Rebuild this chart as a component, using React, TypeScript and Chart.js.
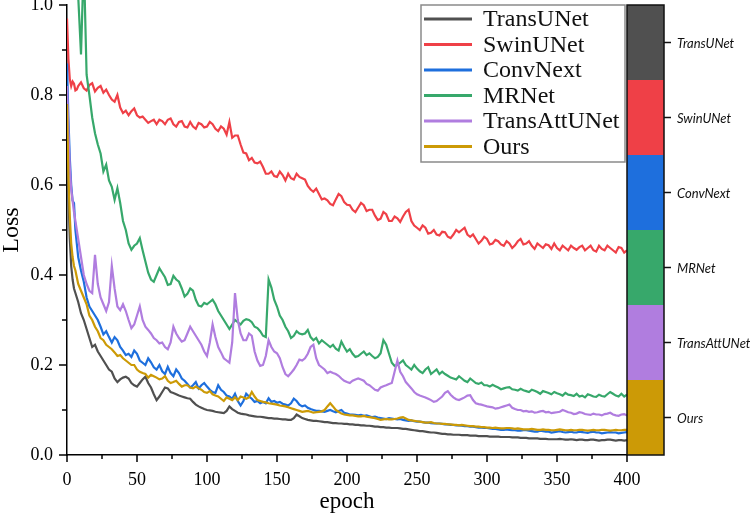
import React, { useEffect, useRef } from "react";
import { Chart, registerables } from "chart.js";
Chart.register(...registerables);

const epochs = [
  0, 1, 2, 3, 4, 5, 6, 7, 8,
  10, 12, 14, 16, 18, 20, 22, 24, 26, 28,
  30, 32, 34, 36, 38, 40, 42, 44, 46, 48,
  50, 52, 54, 56, 58, 60, 62, 64, 66, 68,
  70, 72, 74, 76, 78, 80, 82, 84, 86, 88,
  90, 92, 94, 96, 98, 100, 102, 104, 106, 108,
  110, 112, 114, 116, 118, 120, 122, 124, 126, 128,
  130, 132, 134, 136, 138, 140, 142, 144, 146, 148,
  150, 152, 154, 156, 158, 160, 162, 164, 166, 168,
  170, 172, 174, 176, 178, 180, 182, 184, 186, 188,
  190, 192, 194, 196, 198, 200, 202, 204, 206, 208,
  210, 212, 214, 216, 218, 220, 222, 224, 226, 228,
  230, 232, 234, 236, 238, 240, 242, 244, 246, 248,
  250, 252, 254, 256, 258, 260, 262, 264, 266, 268,
  270, 272, 274, 276, 278, 280, 282, 284, 286, 288,
  290, 292, 294, 296, 298, 300, 302, 304, 306, 308,
  310, 312, 314, 316, 318, 320, 322, 324, 326, 328,
  330, 332, 334, 336, 338, 340, 342, 344, 346, 348,
  350, 352, 354, 356, 358, 360, 362, 364, 366, 368,
  370, 372, 374, 376, 378, 380, 382, 384, 386, 388,
  390, 392, 394, 396, 398, 400,
];

const transUNet = [
  0.72, 0.58, 0.48, 0.42, 0.39, 0.37, 0.36, 0.35, 0.34,
  0.315, 0.3, 0.28, 0.26, 0.24, 0.245, 0.23, 0.22, 0.21, 0.2,
  0.19, 0.185, 0.17, 0.162, 0.168, 0.172, 0.174, 0.17, 0.16, 0.155,
  0.152, 0.16, 0.168, 0.174, 0.16, 0.15, 0.135, 0.122, 0.13, 0.14,
  0.15, 0.148, 0.14, 0.138, 0.135, 0.132, 0.13, 0.128, 0.126, 0.125,
  0.118, 0.112, 0.108, 0.105, 0.102, 0.1, 0.099, 0.098, 0.096, 0.095,
  0.094, 0.093, 0.098, 0.108, 0.102, 0.098, 0.094, 0.092, 0.091, 0.09,
  0.088, 0.087, 0.086, 0.085, 0.085, 0.084, 0.083, 0.082, 0.082, 0.081,
  0.081, 0.08, 0.079, 0.079, 0.078, 0.078, 0.082, 0.09, 0.086, 0.082,
  0.08, 0.078, 0.077, 0.076, 0.076, 0.075, 0.074, 0.073, 0.073, 0.072,
  0.071, 0.071, 0.07, 0.07, 0.069, 0.069, 0.068, 0.068, 0.067, 0.067,
  0.066, 0.066, 0.065, 0.065, 0.064, 0.063, 0.063, 0.062, 0.062, 0.061,
  0.061, 0.06, 0.06, 0.06, 0.059, 0.058, 0.058, 0.057, 0.056, 0.055,
  0.054, 0.053, 0.053, 0.052, 0.051, 0.05, 0.05, 0.049, 0.048, 0.047,
  0.047, 0.046, 0.046, 0.045, 0.045, 0.045, 0.044, 0.044, 0.044, 0.043,
  0.043, 0.043, 0.042, 0.042, 0.042, 0.042, 0.041, 0.041, 0.041, 0.041,
  0.04, 0.04, 0.04, 0.04, 0.039, 0.039, 0.039, 0.038, 0.038, 0.038,
  0.037, 0.037, 0.037, 0.037, 0.036, 0.036, 0.036, 0.035, 0.035, 0.035,
  0.035, 0.036, 0.035, 0.034, 0.034, 0.035, 0.034, 0.033, 0.034, 0.034,
  0.033, 0.033, 0.034, 0.034, 0.033, 0.032, 0.033, 0.033, 0.034, 0.034,
  0.033, 0.032, 0.033, 0.033, 0.032, 0.033,
];

const swinUNet = [
  0.97, 0.88, 0.835, 0.82, 0.83, 0.825, 0.81, 0.812, 0.82,
  0.828, 0.815, 0.81, 0.822, 0.826, 0.808, 0.816, 0.82, 0.805, 0.812,
  0.8, 0.79, 0.785, 0.8, 0.772, 0.76, 0.765, 0.755, 0.764, 0.77,
  0.755, 0.75, 0.752, 0.745, 0.738, 0.742, 0.745, 0.735, 0.745, 0.742,
  0.735, 0.745, 0.748, 0.735, 0.73, 0.74, 0.742, 0.73, 0.728, 0.74,
  0.73, 0.725, 0.738, 0.735, 0.728, 0.73, 0.74, 0.735, 0.725, 0.72,
  0.73, 0.725, 0.712, 0.74, 0.705, 0.71, 0.71, 0.69, 0.672, 0.67,
  0.655, 0.66, 0.65, 0.648, 0.652, 0.64, 0.625, 0.625, 0.63, 0.62,
  0.618, 0.63, 0.622, 0.61, 0.625, 0.615, 0.612, 0.625, 0.618, 0.615,
  0.612, 0.598, 0.59, 0.585, 0.592, 0.58, 0.568, 0.57, 0.566, 0.558,
  0.555, 0.568, 0.58, 0.575, 0.562, 0.556, 0.555, 0.545, 0.54, 0.55,
  0.56, 0.555, 0.542, 0.545, 0.545, 0.532, 0.522, 0.525, 0.54, 0.535,
  0.52, 0.52, 0.53, 0.526, 0.518, 0.53, 0.54, 0.545, 0.52, 0.51,
  0.505, 0.5, 0.51, 0.505, 0.492, 0.494, 0.5, 0.49, 0.488, 0.496,
  0.495, 0.485, 0.482, 0.49, 0.5, 0.495, 0.5, 0.505, 0.49, 0.485,
  0.49, 0.48, 0.47, 0.476, 0.485, 0.48, 0.468, 0.47, 0.478, 0.475,
  0.468, 0.465, 0.475, 0.47, 0.46, 0.466, 0.475, 0.48, 0.468, 0.47,
  0.475, 0.465, 0.458, 0.47, 0.465, 0.46, 0.468, 0.466, 0.458, 0.47,
  0.46, 0.455, 0.465, 0.46, 0.455, 0.465, 0.46, 0.456, 0.462, 0.465,
  0.455, 0.46, 0.465, 0.455, 0.452, 0.465, 0.458, 0.455, 0.465, 0.46,
  0.455, 0.45, 0.462, 0.46, 0.45, 0.455,
];

const convNext = [
  0.87, 0.75, 0.66, 0.6, 0.565, 0.56, 0.5, 0.47, 0.44,
  0.41, 0.385, 0.35, 0.33, 0.32, 0.31, 0.3, 0.285, 0.268, 0.275,
  0.262, 0.25, 0.262, 0.255, 0.24, 0.232, 0.222, 0.225, 0.218, 0.232,
  0.225, 0.21, 0.205, 0.2, 0.215, 0.206, 0.195, 0.19, 0.2, 0.186,
  0.18, 0.196, 0.182, 0.175, 0.19, 0.182, 0.17, 0.165, 0.158, 0.15,
  0.155, 0.162, 0.148, 0.155, 0.16, 0.152, 0.145, 0.14, 0.138, 0.155,
  0.145, 0.14, 0.132, 0.13, 0.125, 0.136, 0.12, 0.11, 0.12, 0.136,
  0.13, 0.125, 0.118, 0.12, 0.115, 0.118, 0.115, 0.126, 0.118, 0.12,
  0.116, 0.118, 0.114, 0.112, 0.11, 0.115, 0.125, 0.12, 0.112, 0.108,
  0.11, 0.105, 0.102, 0.1, 0.098, 0.098, 0.097, 0.096, 0.098, 0.1,
  0.097, 0.095, 0.098, 0.1, 0.094, 0.092, 0.09, 0.09, 0.089, 0.088,
  0.089, 0.087, 0.088, 0.086, 0.084, 0.085, 0.083, 0.082, 0.081, 0.08,
  0.082, 0.081, 0.08, 0.079, 0.08, 0.078, 0.077, 0.076, 0.077, 0.075,
  0.074, 0.074, 0.073, 0.072, 0.072, 0.071, 0.07, 0.07, 0.07, 0.069,
  0.068, 0.068, 0.067, 0.067, 0.066, 0.066, 0.065, 0.064, 0.064, 0.063,
  0.063, 0.062, 0.061, 0.061, 0.06, 0.06, 0.059, 0.058, 0.058, 0.057,
  0.056, 0.056, 0.057, 0.056, 0.055, 0.055, 0.054, 0.054, 0.055, 0.055,
  0.054, 0.053, 0.052, 0.052, 0.054, 0.053, 0.052, 0.052, 0.05, 0.051,
  0.052, 0.053, 0.051, 0.05, 0.051, 0.052, 0.05, 0.05, 0.052, 0.051,
  0.05, 0.049, 0.051, 0.052, 0.05, 0.05, 0.048, 0.049, 0.05, 0.051,
  0.05, 0.05, 0.048, 0.049, 0.05, 0.051,
];

const mrNet = [
  1.25, 1.22, 1.18, 1.15, 1.12, 1.1, 1.08, 1.04, 1.02,
  0.89, 1.1, 0.845, 0.8, 0.75, 0.715, 0.69, 0.67, 0.63, 0.645,
  0.61, 0.596, 0.567, 0.593, 0.56, 0.52, 0.5, 0.47, 0.456, 0.465,
  0.47, 0.482, 0.455, 0.43, 0.405, 0.39, 0.385, 0.4, 0.415, 0.405,
  0.395, 0.378, 0.38, 0.398, 0.39, 0.385, 0.37, 0.352, 0.358, 0.37,
  0.365, 0.345, 0.332, 0.33, 0.338, 0.335, 0.34, 0.345, 0.335, 0.32,
  0.31, 0.3, 0.29, 0.28, 0.29, 0.3, 0.295, 0.29, 0.298, 0.302,
  0.3, 0.295, 0.285, 0.282, 0.275, 0.265, 0.262, 0.39, 0.372, 0.345,
  0.33, 0.31, 0.3, 0.285, 0.275, 0.26, 0.265, 0.275, 0.27, 0.268,
  0.27, 0.278, 0.262, 0.255, 0.26, 0.248, 0.255, 0.25, 0.245, 0.24,
  0.245, 0.236, 0.232, 0.252, 0.24, 0.23, 0.235, 0.225, 0.218, 0.22,
  0.225, 0.23, 0.222, 0.226, 0.22, 0.215, 0.218, 0.226, 0.255, 0.245,
  0.225, 0.205, 0.198, 0.2, 0.205, 0.21, 0.2, 0.195, 0.19, 0.2,
  0.192, 0.186, 0.182, 0.19, 0.195, 0.18, 0.185, 0.19, 0.18, 0.185,
  0.18, 0.176, 0.172, 0.17, 0.168, 0.175, 0.17, 0.165, 0.162, 0.17,
  0.165, 0.16, 0.158, 0.161, 0.155, 0.155, 0.152, 0.156, 0.153, 0.15,
  0.146, 0.148, 0.15, 0.151, 0.146, 0.145, 0.143, 0.147, 0.144, 0.142,
  0.14, 0.145, 0.143, 0.14, 0.136, 0.142, 0.14, 0.138, 0.135, 0.14,
  0.137, 0.135, 0.132, 0.138, 0.134, 0.133, 0.131, 0.136, 0.13, 0.132,
  0.128, 0.135, 0.133, 0.13, 0.129, 0.134, 0.131, 0.13, 0.135, 0.14,
  0.136, 0.132, 0.13, 0.136, 0.13, 0.134,
];

const transAttUNet = [
  0.82, 0.72, 0.64, 0.59, 0.565, 0.54, 0.52, 0.5, 0.48,
  0.44, 0.4, 0.38, 0.365, 0.36, 0.445, 0.38, 0.35, 0.335, 0.32,
  0.34, 0.42, 0.37, 0.33, 0.322, 0.335, 0.32, 0.3, 0.282, 0.29,
  0.31, 0.33, 0.3, 0.285, 0.278, 0.27, 0.26, 0.255, 0.248, 0.25,
  0.24, 0.235, 0.25, 0.285, 0.27, 0.26, 0.252, 0.255, 0.27, 0.285,
  0.275, 0.265, 0.255, 0.245, 0.23, 0.22, 0.25, 0.29, 0.262, 0.24,
  0.228, 0.215, 0.21, 0.205, 0.25, 0.36, 0.3, 0.27, 0.255, 0.255,
  0.27, 0.265, 0.23, 0.21, 0.198, 0.2, 0.22, 0.255, 0.24, 0.23,
  0.226, 0.215, 0.195, 0.18, 0.175, 0.182, 0.19, 0.2, 0.212, 0.21,
  0.215, 0.225, 0.24, 0.245, 0.215, 0.2, 0.195, 0.19, 0.182, 0.185,
  0.182, 0.18, 0.176, 0.17, 0.165, 0.162, 0.16, 0.165, 0.168, 0.17,
  0.168, 0.165, 0.158, 0.155, 0.15, 0.145, 0.143, 0.15, 0.153, 0.155,
  0.158, 0.16, 0.185, 0.21, 0.185, 0.175, 0.162, 0.155, 0.148, 0.14,
  0.135, 0.132, 0.13, 0.128, 0.125, 0.122, 0.118, 0.12, 0.125, 0.13,
  0.138, 0.142, 0.134, 0.128, 0.124, 0.122, 0.125, 0.128, 0.132, 0.133,
  0.122, 0.115, 0.113, 0.112, 0.11, 0.108, 0.107, 0.106, 0.103, 0.104,
  0.106, 0.108, 0.11, 0.112, 0.105, 0.102, 0.1, 0.1, 0.097, 0.098,
  0.096, 0.097, 0.094, 0.095, 0.097, 0.098, 0.095, 0.096, 0.093, 0.094,
  0.095, 0.096, 0.1, 0.098, 0.095, 0.094, 0.091, 0.092, 0.095, 0.094,
  0.091, 0.09, 0.089, 0.092, 0.09, 0.09, 0.088, 0.091, 0.092, 0.094,
  0.09, 0.088, 0.087, 0.09, 0.091, 0.088,
];

const ours = [
  0.78, 0.62, 0.53, 0.47, 0.44, 0.42, 0.41, 0.395, 0.38,
  0.365, 0.35, 0.335, 0.31, 0.3, 0.285, 0.275, 0.26, 0.255, 0.245,
  0.24, 0.235, 0.228, 0.22, 0.222, 0.215, 0.21, 0.205, 0.2, 0.2,
  0.19, 0.185, 0.182, 0.18, 0.172, 0.178, 0.175, 0.172, 0.168, 0.17,
  0.175, 0.165, 0.16, 0.162, 0.165, 0.158, 0.152, 0.155, 0.155, 0.15,
  0.148, 0.152, 0.148, 0.145, 0.14, 0.138, 0.142, 0.135, 0.132, 0.13,
  0.125, 0.12, 0.128, 0.125, 0.122, 0.128, 0.122, 0.13, 0.128, 0.125,
  0.128, 0.14, 0.13, 0.122, 0.12, 0.118, 0.117, 0.115, 0.114, 0.113,
  0.112, 0.11, 0.109, 0.108, 0.106, 0.104, 0.102, 0.1, 0.098, 0.096,
  0.097, 0.098, 0.096, 0.094, 0.095, 0.096, 0.097, 0.1, 0.108, 0.115,
  0.108, 0.1, 0.096, 0.092, 0.09, 0.089, 0.088, 0.088, 0.087, 0.086,
  0.086, 0.087, 0.085, 0.084, 0.083, 0.082, 0.08, 0.078, 0.079, 0.08,
  0.079, 0.079, 0.08, 0.081, 0.083, 0.084, 0.081, 0.078, 0.077, 0.076,
  0.075, 0.074, 0.073, 0.072, 0.072, 0.073, 0.071, 0.07, 0.07, 0.069,
  0.069, 0.068, 0.068, 0.067, 0.067, 0.066, 0.067, 0.066, 0.065, 0.064,
  0.064, 0.063, 0.063, 0.062, 0.062, 0.061, 0.061, 0.06, 0.061, 0.06,
  0.059, 0.059, 0.06, 0.06, 0.059, 0.058, 0.059, 0.058, 0.057, 0.057,
  0.057, 0.058, 0.057, 0.056, 0.056, 0.057, 0.056, 0.056, 0.055, 0.055,
  0.056, 0.057, 0.056, 0.055, 0.055, 0.056, 0.055, 0.055, 0.056, 0.056,
  0.055, 0.054, 0.055, 0.056, 0.055, 0.055, 0.056, 0.056, 0.055, 0.054,
  0.055, 0.056, 0.055, 0.055, 0.056, 0.056,
];

const seriesNames = ["TransUNet", "SwinUNet", "ConvNext", "MRNet", "TransAttUNet", "Ours"];
const seriesColors = ["#505050", "#ef4047", "#1e6fdd", "#37a86b", "#b07ddf", "#cc9a06"];
const yTicks = [0, 0.2, 0.4, 0.6, 0.8, 1.0];
const yMinorTicks = [0.1, 0.3, 0.5, 0.7, 0.9];
const xTicks = [0, 50, 100, 150, 200, 250, 300, 350, 400];
const xMinorTicks = [25, 75, 125, 175, 225, 275, 325, 375];

export default function App() {
  const ref = useRef<HTMLCanvasElement>(null);

  useEffect(() => {
    const canvas = ref.current;
    if (!canvas) return;
    const series = [transUNet, swinUNet, convNext, mrNet, transAttUNet, ours];
    const datasets = series.map((vals, i) => ({
      label: seriesNames[i],
      data: vals.map((v, j) => ({ x: epochs[j], y: v })),
      borderColor: seriesColors[i],
      backgroundColor: seriesColors[i],
      borderWidth: 2.2,
      pointRadius: 0,
      tension: 0,
      order: 6 - i,
      clip: { left: 0, top: 5, right: 0, bottom: 0 },
    }));

    const zeroPad = (s: any) => {
      s.paddingTop = 0;
      s.paddingBottom = 0;
      s.paddingLeft = 0;
      s.paddingRight = 0;
    };

    const decor = {
      id: "decor",
      afterDraw(chart: any) {
        const { ctx, chartArea, scales } = chart;
        const xs = scales.x;
        const ys = scales.y;
        ctx.save();
        ctx.strokeStyle = "#000";
        ctx.lineWidth = 1.5;
        yTicks.forEach((v) => {
          const py = ys.getPixelForValue(v);
          ctx.beginPath();
          ctx.moveTo(chartArea.left - 8, py);
          ctx.lineTo(chartArea.left, py);
          ctx.stroke();
        });
        yMinorTicks.forEach((v) => {
          const py = ys.getPixelForValue(v);
          ctx.beginPath();
          ctx.moveTo(chartArea.left - 5, py);
          ctx.lineTo(chartArea.left, py);
          ctx.stroke();
        });
        xTicks.forEach((v) => {
          const px = xs.getPixelForValue(v);
          ctx.beginPath();
          ctx.moveTo(px, chartArea.bottom);
          ctx.lineTo(px, chartArea.bottom + 7);
          ctx.stroke();
        });
        xMinorTicks.forEach((v) => {
          const px = xs.getPixelForValue(v);
          ctx.beginPath();
          ctx.moveTo(px, chartArea.bottom);
          ctx.lineTo(px, chartArea.bottom + 4);
          ctx.stroke();
        });

        // colour bar
        const cbLeft = chartArea.right;
        const cbW = 37;
        const segH = (chartArea.bottom - chartArea.top) / seriesNames.length;
        seriesNames.forEach((name, i) => {
          const top = chartArea.top + i * segH;
          ctx.fillStyle = seriesColors[i];
          ctx.fillRect(cbLeft, top, cbW, segH);
        });
        ctx.strokeStyle = "#111";
        ctx.lineWidth = 1.5;
        ctx.strokeRect(cbLeft, chartArea.top, cbW, chartArea.bottom - chartArea.top);
        ctx.font = "italic 13px Lato";
        ctx.fillStyle = "#111";
        ctx.textBaseline = "middle";
        ctx.textAlign = "left";
        seriesNames.forEach((name, i) => {
          const cy = chartArea.top + (i + 0.5) * segH;
          ctx.beginPath();
          ctx.moveTo(cbLeft + cbW, cy);
          ctx.lineTo(cbLeft + cbW + 7, cy);
          ctx.stroke();
          ctx.fillText(name, cbLeft + cbW + 13, cy + 1);
        });

        // legend
        const lx = 421;
        const ly = chartArea.top;
        const lw = 204;
        const lh = 157;
        ctx.fillStyle = "#fff";
        ctx.fillRect(lx, ly, lw, lh);
        ctx.strokeStyle = "#8a8a8a";
        ctx.lineWidth = 1.5;
        ctx.strokeRect(lx, ly, lw, lh);
        seriesNames.forEach((name, i) => {
          const cy = ly + 14 + i * 25.5;
          ctx.strokeStyle = seriesColors[i];
          ctx.lineWidth = 3;
          ctx.beginPath();
          ctx.moveTo(lx + 3, cy);
          ctx.lineTo(lx + 51, cy);
          ctx.stroke();
          ctx.font = "24px 'Liberation Serif'";
          ctx.fillStyle = "#111";
          ctx.textBaseline = "middle";
          ctx.fillText(name, lx + 62, cy + 1);
        });
        ctx.restore();
      },
    };

    const chart = new Chart(canvas, {
      type: "line",
      data: { datasets },
      options: {
        responsive: false,
        animation: false,
        layout: { padding: { top: 5, right: 123, left: 0, bottom: 0 } },
        plugins: { legend: { display: false }, tooltip: { enabled: false } },
        scales: {
          x: {
            type: "linear",
            min: 0,
            max: 400,
            afterFit: (s: any) => {
              s.height = 65;
              zeroPad(s);
            },
            afterBuildTicks: (s: any) => {
              s.ticks = xTicks.map((v) => ({ value: v }));
            },
            grid: { display: false, drawTicks: false },
            border: { display: true, color: "#000", width: 1.5 },
            ticks: {
              color: "#000",
              padding: 14,
              maxRotation: 0,
              font: { family: "'Liberation Serif'", size: 18 },
            },
            title: {
              display: true,
              text: "epoch",
              color: "#000",
              font: { family: "'Liberation Serif'", size: 23 },
              padding: { top: 0, bottom: 4 },
            },
          },
          y: {
            type: "linear",
            min: 0,
            max: 1,
            afterFit: (s: any) => {
              s.width = 67;
              zeroPad(s);
            },
            afterBuildTicks: (s: any) => {
              s.ticks = yTicks.map((v) => ({ value: v }));
            },
            grid: { display: false, drawTicks: false },
            border: { display: true, color: "#000", width: 1.5 },
            ticks: {
              color: "#000",
              padding: 14,
              callback: (v: any) => Number(v).toFixed(1),
              font: { family: "'Liberation Serif'", size: 18 },
            },
            title: {
              display: true,
              text: "Loss",
              color: "#000",
              font: { family: "'Liberation Serif'", size: 24, lineHeight: 1 },
              padding: { top: 0, bottom: 0 },
            },
          },
        },
      },
      plugins: [decor],
    });
    return () => chart.destroy();
  }, []);

  return (
    <div style={{ position: "fixed", left: 0, top: 0, width: 750, height: 520, background: "#fff" }}>
      <canvas ref={ref} width={750} height={520} style={{ display: "block" }} />
    </div>
  );
}
